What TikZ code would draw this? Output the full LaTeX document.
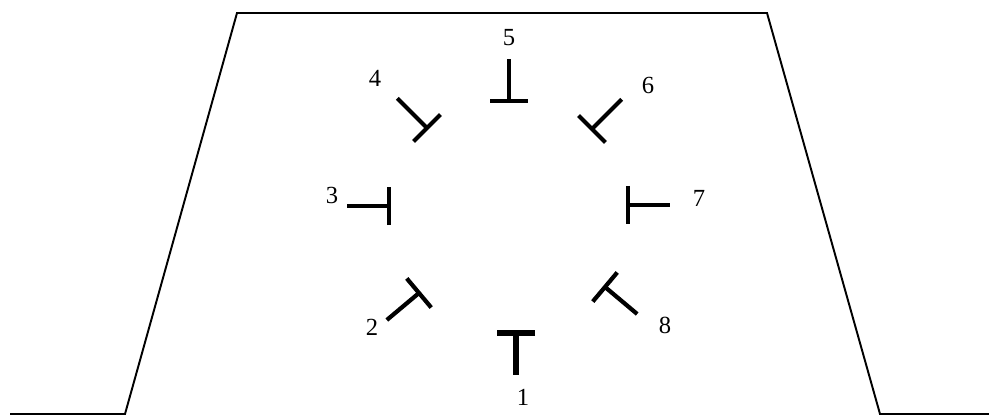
\documentclass[tikz,border=0pt]{standalone}
\usepackage{fontspec}
\setmainfont{Liberation Serif}

\tikzset{
  disl/.pic={\draw (0,0)--(0,42); \draw (-19,0)--(19,0);},
  symb/.style={line width=2.4pt},
  num/.style={font=\fontsize{14}{16}\selectfont,inner sep=0pt}
}

\begin{document}
\begin{tikzpicture}[x=0.02cm,y=0.02cm]
\useasboundingbox (0,0) rectangle (989,416);
\draw[line width=1.1pt,line join=miter] (10,2)--(125,2)--(237,403)--(767,403)--(880,2)--(989,2);
\coordinate (d1) at (516,83);
\coordinate (d2) at (419,123);
\coordinate (d3) at (389,210);
\coordinate (d4) at (427,288);
\coordinate (d5) at (509,315);
\coordinate (d6) at (592,287);
\coordinate (d7) at (628,211);
\coordinate (d8) at (605,129);
\pic[symb,rotate=180,line width=2.9pt] at (d1) {disl};
\pic[symb,rotate=130] at (d2) {disl};
\pic[symb,rotate=90] at (d3) {disl};
\pic[symb,rotate=45] at (d4) {disl};
\pic[symb] at (d5) {disl};
\pic[symb,rotate=-45] at (d6) {disl};
\pic[symb,rotate=-90] at (d7) {disl};
\pic[symb,rotate=-130] at (d8) {disl};
\node[num] (l1) at (523,19) {1};
\node[num] (l2) at (372,89) {2};
\node[num] (l3) at (332,221) {3};
\node[num] (l4) at (375,338) {4};
\node[num] (l5) at (509,378) {5};
\node[num] (l6) at (648,331) {6};
\node[num] (l7) at (699,218) {7};
\node[num] (l8) at (665,91) {8};
\end{tikzpicture}
\end{document}
